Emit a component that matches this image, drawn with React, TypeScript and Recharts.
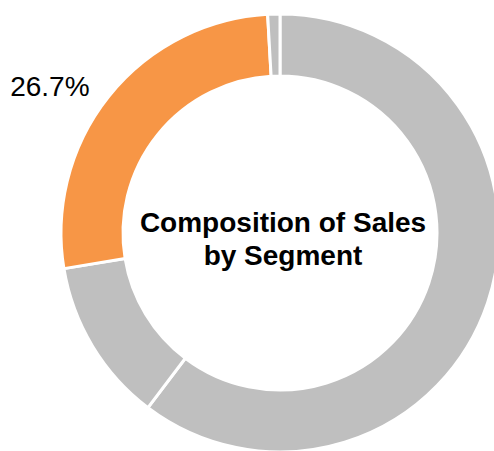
import { PieChart, Pie, Cell, Label } from 'recharts';

const segments = ['Segment A', 'Segment B', 'Segment C', 'Segment D'];
const shares = [60.3, 12.1, 26.7, 0.9];
const colors = ['#BFBFBF', '#BFBFBF', '#F79646', '#BFBFBF'];
const labelled = [false, false, true, false];
const titleLines = ['Composition of Sales', 'by Segment'];

const FONT = '"Liberation Sans", Arial, sans-serif';
const RAD = Math.PI / 180;

const data = segments.map((name, i) => ({ name, value: shares[i], color: colors[i], showLabel: labelled[i] }));

function SliceLabel(props: any) {
  const { cx, cy, midAngle, outerRadius, index, value } = props;
  if (!data[index].showLabel) return null;
  const r = outerRadius + 25;
  const x = cx + r * Math.cos(-midAngle * RAD);
  const y = cy + r * Math.sin(-midAngle * RAD);
  return (
    <text x={x} y={y + 6} textAnchor="end" dominantBaseline="central" fill="#000" fontSize={28} fontFamily={FONT}>
      {value.toFixed(1)}%
    </text>
  );
}

function CenterTitle(props: any) {
  const { viewBox } = props;
  const cx = viewBox?.cx ?? 280;
  const cy = viewBox?.cy ?? 233;
  return (
    <text x={cx + 3} textAnchor="middle" fill="#000" fontSize={28} fontWeight="bold" fontFamily={FONT}>
      <tspan x={cx + 3} y={cy - 1}>{titleLines[0]}</tspan>
      <tspan x={cx + 3} y={cy + 32}>{titleLines[1]}</tspan>
    </text>
  );
}

export default function App() {
  return (
    <div style={{ position: 'absolute', left: 0, top: 0, width: 494, height: 451, background: '#fff' }}>
      <PieChart width={494} height={451} margin={{ top: 0, right: 0, bottom: 0, left: 0 }}>
        <Pie
          data={data}
          dataKey="value"
          nameKey="name"
          cx={280}
          cy={233}
          innerRadius={157}
          outerRadius={219}
          startAngle={90}
          endAngle={-270}
          stroke="#ffffff"
          strokeWidth={3}
          label={SliceLabel}
          labelLine={false}
          isAnimationActive={false}
        >
          {data.map((d) => (
            <Cell key={d.name} fill={d.color} />
          ))}
          <Label position="center" content={CenterTitle} />
        </Pie>
      </PieChart>
    </div>
  );
}
